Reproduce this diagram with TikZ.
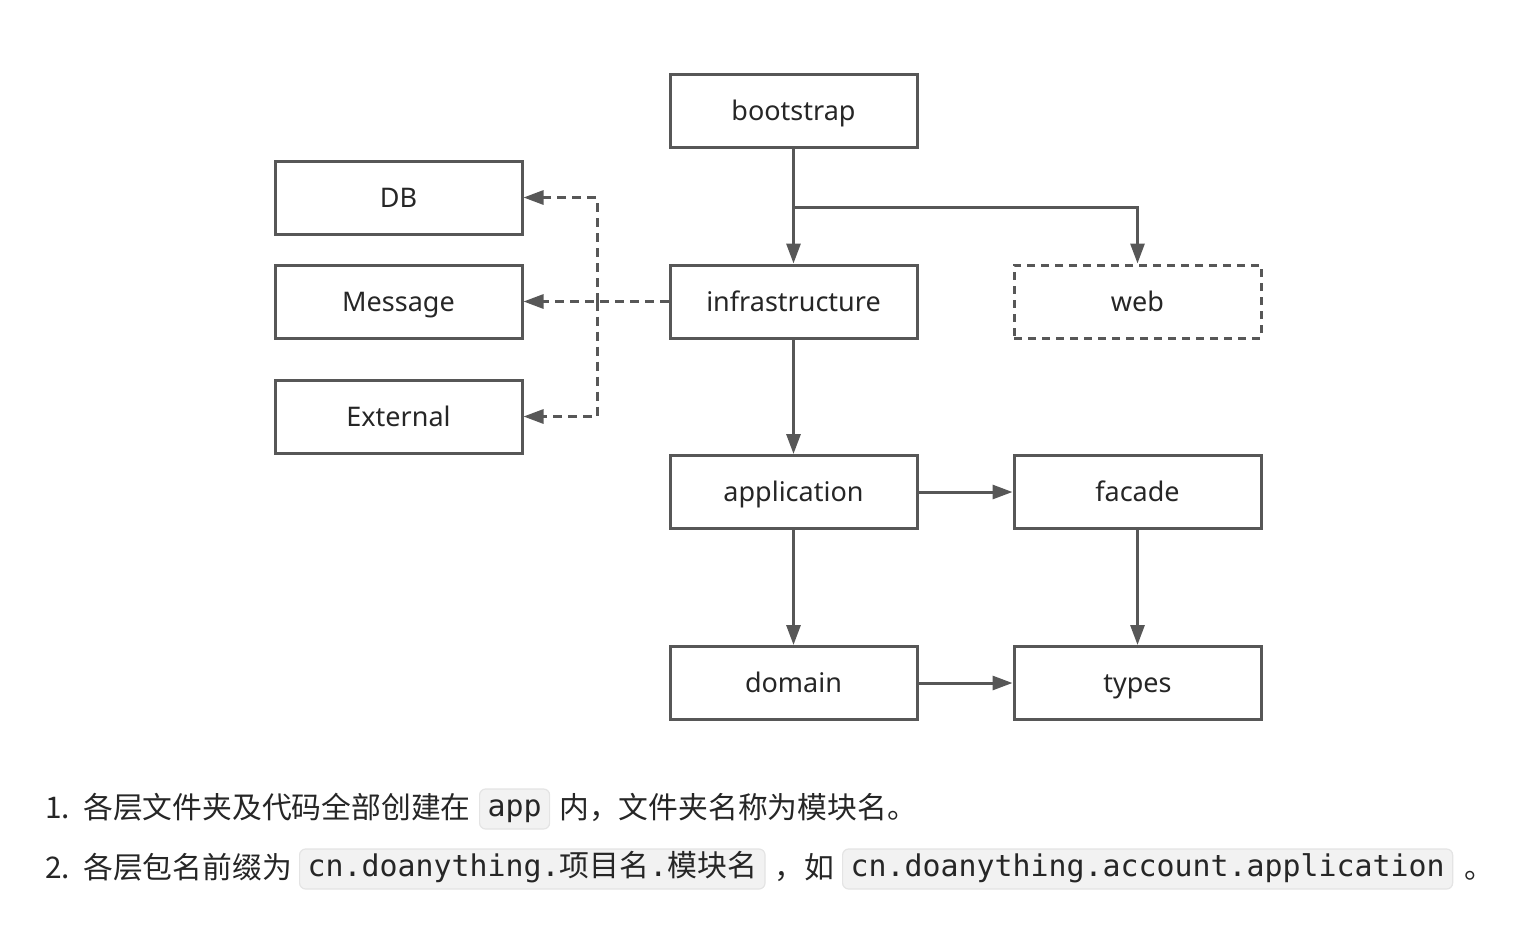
\documentclass[tikz,border=0pt]{standalone}
\usepackage{fontspec}
\setmainfont{Noto Sans}
\newfontfamily\cjk{Noto Sans CJK SC}
\newfontfamily\codefont{DejaVu Sans Mono}
\usetikzlibrary{arrows.meta}
\definecolor{linegray}{HTML}{575757}
\definecolor{textgray}{HTML}{262626}
\definecolor{codebg}{HTML}{F2F2F2}
\definecolor{codeline}{HTML}{E4E4E4}
\tikzset{
  layer/.style={draw=linegray,line width=3pt,minimum width=247pt,minimum height=73pt,
    inner sep=0pt,text height=22pt,text depth=3pt,text=textgray,font=\fontsize{27}{32}\selectfont},
  optlayer/.style={layer,dash pattern=on 8pt off 6pt},
  arr/.style={draw=linegray,line width=3pt,-{Triangle[length=20pt,width=14pt]}},
  dasharr/.style={arr,dash pattern=on 9pt off 6pt},
  txt/.style={anchor=base west,inner sep=0pt,text=textgray,font=\cjk\fontsize{29.8}{34}\selectfont},
  codebox/.style={anchor=west,fill=codebg,draw=codeline,line width=1.2pt,rounded corners=6pt,
    inner xsep=8pt,inner ysep=5.5pt,text height=22pt,text depth=7pt,text=textgray,
    font=\codefont\fontsize{29.9}{34}\selectfont}
}
\begin{document}
\begin{tikzpicture}[x=1pt,y=-1pt]
        \useasboundingbox (0,0) rectangle (1524,938);
        %% layers
        \node[layer] (boot) at (793.5,110.5) {bootstrap};
        \node[layer] (infra) at (793.5,301.5) {infrastructure};
        \node[optlayer] (web) at (1137.5,301.5) {web};
        \node[layer] (app) at (793.5,492) {application};
        \node[layer] (facade) at (1137.5,492) {facade};
        \node[layer] (domain) at (793.5,683) {domain};
        \node[layer] (types) at (1137.5,683) {types};
        %% external resources
        \node[layer] (db) at (398.5,197.5) {DB};
        \node[layer] (msg) at (398.5,301.5) {Message};
        \node[layer] (ext) at (398.5,416.5) {External};
        %% dependencies
        \coordinate (fork) at (793.5,207);
        \draw[arr] (boot.south) -- (infra.north);
        \draw[arr] (fork) -| (web.north);
        \draw[arr] (infra.south) -- (app.north);
        \draw[arr] (app.east) -- (facade.west);
        \draw[arr] (app.south) -- (domain.north);
        \draw[arr] (facade.south) -- (types.north);
        \draw[arr] (domain.east) -- (types.west);
        %% infrastructure adapters
        \coordinate (split) at (597,301.5);
        \draw[dasharr] (infra.west) -- (msg.east);
        \draw[dasharr] (split) |- (db.east);
        \draw[dasharr] (split) |- (ext.east);
        %% notes
        \node[txt] (n1) at (45,818) {1.};
        \node[txt] (t1a) at (83,818) {各层文件夹及代码全部创建在};
        \node[codebox] (c1) at (479,809) {app};
        \node[txt] (t1b) at (559,818) {内，文件夹名称为模块名。};
        \node[txt] (n2) at (45,878) {2.};
        \node[txt] (t2a) at (83,878) {各层包名前缀为};
        \node[codebox] (c2) at (299,869) {cn.doanything.{\cjk 项目名}.{\cjk 模块名}};
        \node[txt] (t2b) at (774,878) {，如};
        \node[codebox] (c3) at (842,869) {cn.doanything.account.application};
        \node[txt] (t2c) at (1464,878) {。};
\end{tikzpicture}
\end{document}
